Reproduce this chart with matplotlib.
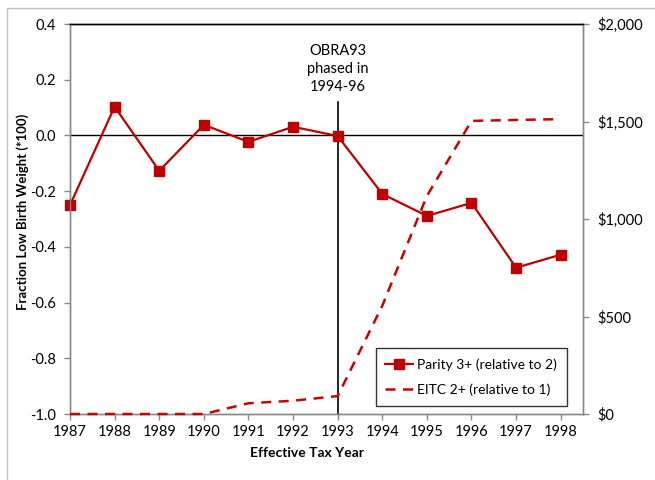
import matplotlib
matplotlib.use("Agg")
import matplotlib.pyplot as plt
from matplotlib.ticker import FuncFormatter, FixedLocator
from matplotlib.patches import Rectangle

plt.rcParams['font.family'] = ['Lato', 'DejaVu Sans']

years = [1987, 1988, 1989, 1990, 1991, 1992, 1993, 1994, 1995, 1996, 1997, 1998]
parity = [-0.25, 0.103, -0.127, 0.038, -0.023, 0.031, -0.002, -0.21, -0.289, -0.242, -0.475, -0.428]
eitc = [0, 0, 0, 0, 55, 68, 92, 555, 1118, 1503, 1508, 1512]
left_ticks = [-1.0, -0.8, -0.6, -0.4, -0.2, 0.0, 0.2, 0.4]
right_ticks = [0, 500, 1000, 1500, 2000]
annot_text = "OBRA93\nphased in\n1994-96"
annot_year = 1993

W, H = 655, 480
fig = plt.figure(figsize=(W / 100, H / 100), dpi=100)

# outer frame (cropped chart border)
fig.patches.append(Rectangle((7 / W, -0.1), 1.2, (H - 8) / H + 0.1, transform=fig.transFigure,
                             fill=False, edgecolor='#BFBFBF', linewidth=1.0))

ax = fig.add_axes([70 / W, 1 - 414 / H, (583 - 70) / W, (414 - 24) / H])
ax2 = ax.twinx()

red = '#C00000'
ax.axhline(0, color='black', lw=1.0, zorder=1)
ax.plot([annot_year, annot_year], [-1.0, 0.12], color='black', lw=1.2, zorder=2)
l1, = ax.plot(years, parity, color=red, lw=1.6, marker='s', markersize=7,
              markeredgecolor=red, markerfacecolor=red, zorder=5, clip_on=False)
l2, = ax2.plot(years, eitc, color='#CC0000', lw=1.8, dashes=(4, 3), zorder=4, clip_on=False)

ax.set_xlim(1987, 1998.5)
ax.set_ylim(-1.0, 0.4)
ax2.set_ylim(0, 2000)
ax.set_xticks(years)
ax.set_xticklabels([str(y) for y in years])
ax.yaxis.set_major_locator(FixedLocator(left_ticks))
ax.yaxis.set_major_formatter(FuncFormatter(lambda v, p: f"{v:.1f}"))
ax2.yaxis.set_major_locator(FixedLocator(right_ticks))
ax2.yaxis.set_major_formatter(FuncFormatter(lambda v, p: f"${int(v):,}"))

grey = '#888888'
for a in (ax, ax2):
    for s in a.spines.values():
        s.set_color(grey)
        s.set_linewidth(1.0)
    a.spines['top'].set_color('black')
    a.tick_params(colors=grey, length=4, width=1.0, labelcolor='black', labelsize=10.5, direction='out')
ax.tick_params(axis='x', pad=4)
ax.tick_params(axis='y', pad=6)
ax2.tick_params(axis='y', pad=6)

fig.text(23 / W, 1 - 212 / H, "Fraction Low Birth Weight (*100)", rotation=90,
         ha='center', va='center', fontsize=9.5, fontweight='bold')
fig.text(307 / W, 1 - 453 / H, "Effective Tax Year", ha='center', va='center',
         fontsize=10, fontweight='bold')

ax.text(annot_year, 0.15, annot_text, ha='center', va='bottom', fontsize=10.5,
        linespacing=1.35)

leg = ax.legend([l1, l2], ["Parity 3+ (relative to 2)", "EITC 2+ (relative to 1)"],
                loc='lower right', bbox_to_anchor=(567 / 513 - 70 / 513, (414 - 406) / 390),
                frameon=True, fancybox=False, edgecolor='black', fontsize=10,
                handlelength=2.0, labelspacing=0.95, borderpad=0.7, handletextpad=0.3,
                borderaxespad=0)
leg.get_frame().set_linewidth(1.0)
leg.set_zorder(10)

fig.savefig("out.png", dpi=100)
